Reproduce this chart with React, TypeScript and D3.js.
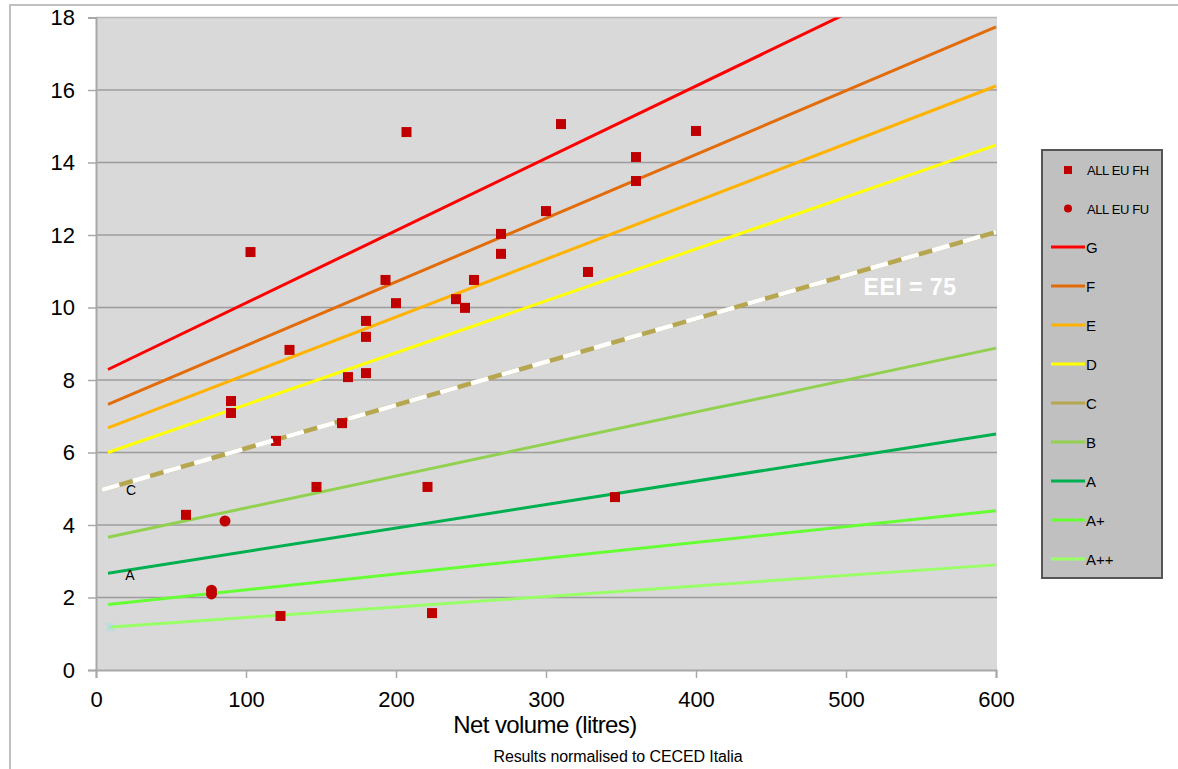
import React, { useRef, useEffect } from 'react';
import * as d3 from 'd3';

// energy class lines (start / end volume, consumption)
const lineVolumes = [8, 600];
const cVolumes = [4, 600];
const classNames = ['G', 'F', 'E', 'D', 'C', 'B', 'A', 'A+', 'A++'];
const classColors = ['#ff0000', '#e36c0a', '#ffb300', '#ffff00', '#b5a64f', '#92d050', '#00b050', '#66ff33', '#99ff66'];
const gValues = [8.29, 20.1];
const fValues = [7.33, 17.74];
const eValues = [6.68, 16.11];
const dValues = [6.0, 14.48];
const cValues = [4.97, 12.08];
const bValues = [3.66, 8.88];
const aValues = [2.67, 6.51];
const aPlusValues = [1.81, 4.39];
const aPlusPlusValues = [1.18, 2.9];

// ALL EU FH (squares)
const fhVolume = [60, 90, 90, 103, 120, 123, 129, 147, 164, 168, 180, 180, 180, 193, 200, 207, 221, 224, 240, 246, 252, 270, 270, 300, 310, 328, 346, 360, 360, 400];
const fhValue = [4.28, 7.42, 7.09, 11.53, 6.32, 1.49, 8.83, 5.05, 6.81, 8.08, 9.63, 9.19, 8.19, 10.76, 10.12, 14.84, 5.05, 1.57, 10.23, 9.99, 10.76, 12.03, 11.48, 12.66, 15.06, 10.98, 4.77, 14.15, 13.49, 14.87];

// ALL EU FU (circles)
const fuVolume = [86, 77, 77];
const fuValue = [4.11, 2.2, 2.1];

const xTicks = [0, 100, 200, 300, 400, 500, 600];
const yTicks = [0, 2, 4, 6, 8, 10, 12, 14, 16, 18];

const FONT = 'Liberation Sans, Arial, sans-serif';

function EnergyChart() {
  const svgRef = useRef(null);

  useEffect(() => {
    const svg = d3.select(svgRef.current);
    svg.selectAll('*').remove();

    const left = 96, right = 997, top = 17.5, bottom = 670;
    const x = d3.scaleLinear().domain([0, 600]).range([left, left + 900]);
    const y = d3.scaleLinear().domain([0, 18]).range([bottom, top]);

    // outer chart border
    svg.append('line').attr('x1', 9).attr('x2', 1178).attr('y1', 5).attr('y2', 5)
      .attr('stroke', '#c0c0c0').attr('stroke-width', 2);
    svg.append('line').attr('x1', 10).attr('x2', 10).attr('y1', 5).attr('y2', 769)
      .attr('stroke', '#c0c0c0').attr('stroke-width', 2);

    // plot area
    svg.append('rect').attr('x', left).attr('y', top)
      .attr('width', right - left).attr('height', bottom - top).attr('fill', '#d9d9d9');

    svg.append('defs').append('clipPath').attr('id', 'plotClip')
      .append('rect').attr('x', left).attr('y', top)
      .attr('width', right - left).attr('height', bottom - top);

    // gridlines
    svg.append('g').selectAll('line').data(yTicks.filter((t) => t > 0)).join('line')
      .attr('x1', left).attr('x2', right)
      .attr('y1', (d) => y(d)).attr('y2', (d) => y(d))
      .attr('stroke', (d) => (d === 18 ? '#b8b8b8' : '#9c9c9c')).attr('stroke-width', 1.5);

    // y axis
    const yAxis = d3.axisLeft(y).tickValues(yTicks).tickSize(8).tickPadding(13).tickFormat(d3.format('d'));
    const gy = svg.append('g').attr('transform', `translate(${left},0)`).call(yAxis);
    gy.select('.domain').attr('stroke', '#a8a8a8').attr('stroke-width', 2);
    gy.selectAll('.tick line').attr('stroke', '#a8a8a8').attr('stroke-width', 1.5);
    gy.selectAll('.tick text').attr('font-family', FONT).attr('font-size', 22).attr('fill', '#000');

    // x axis
    const xAxis = d3.axisBottom(x).tickValues(xTicks).tickSize(8).tickPadding(13).tickFormat(d3.format('d'));
    const gx = svg.append('g').attr('transform', `translate(0,${bottom})`).call(xAxis);
    gx.select('.domain').attr('stroke', '#a8a8a8').attr('stroke-width', 2);
    gx.selectAll('.tick line').attr('stroke', '#a8a8a8').attr('stroke-width', 1.5);
    gx.selectAll('.tick text').attr('font-family', FONT).attr('font-size', 22).attr('fill', '#000');

    // class lines
    const series = [gValues, fValues, eValues, dValues, cValues, bValues, aValues, aPlusValues, aPlusPlusValues];
    const line = d3.line().x((d) => x(d[0])).y((d) => y(d[1]));
    const plot = svg.append('g').attr('clip-path', 'url(#plotClip)');

    series.forEach((vals, i) => {
      const vols = classNames[i] === 'C' ? cVolumes : lineVolumes;
      const pts = vols.map((v, j) => [v, vals[j]]);
      plot.append('path').attr('d', line(pts)).attr('fill', 'none')
        .attr('stroke', classColors[i]).attr('stroke-width', classNames[i] === 'C' ? 4.5 : 3);
    });

    // small marker at start of A++
    const mx = x(lineVolumes[0]) + 2, my = y(aPlusPlusValues[0]);
    svg.append('path')
      .attr('d', `M${mx - 4},${my - 4}L${mx + 4},${my + 4}M${mx - 4},${my + 4}L${mx + 4},${my - 4}M${mx},${my - 5}L${mx},${my + 5}`)
      .attr('stroke', '#b0dde0').attr('stroke-width', 1.2);

    // data points
    svg.append('g').selectAll('rect').data(fhVolume.map((v, i) => [v, fhValue[i]])).join('rect')
      .attr('x', (d) => x(d[0]) - 5).attr('y', (d) => y(d[1]) - 5)
      .attr('width', 10).attr('height', 10).attr('fill', '#c00000');
    svg.append('g').selectAll('circle').data(fuVolume.map((v, i) => [v, fuValue[i]])).join('circle')
      .attr('cx', (d) => x(d[0])).attr('cy', (d) => y(d[1])).attr('r', 5.5).attr('fill', '#c00000');

    // EEI = 75 white dashes, drawn over the points
    const cPts = cVolumes.map((v, j) => [v, cValues[j]]);
    svg.append('g').attr('clip-path', 'url(#plotClip)').append('path').attr('d', line(cPts)).attr('fill', 'none')
      .attr('stroke', '#ffffff').attr('stroke-width', 4.5).attr('stroke-dasharray', '18 14');

    // in-plot labels
    svg.append('text').attr('x', 131).attr('y', 495).attr('text-anchor', 'middle')
      .attr('font-family', FONT).attr('font-size', 14).text('C');
    svg.append('text').attr('x', 130).attr('y', 580).attr('text-anchor', 'middle')
      .attr('font-family', FONT).attr('font-size', 14).text('A');
    svg.append('text').attr('x', 910).attr('y', 295).attr('text-anchor', 'middle')
      .attr('font-family', FONT).attr('font-size', 23).attr('font-weight', 'bold')
      .attr('letter-spacing', 0.5).attr('fill', '#ffffff').text('EEI = 75');

    // axis titles
    svg.append('text').attr('x', 545).attr('y', 733).attr('text-anchor', 'middle')
      .attr('font-family', FONT).attr('font-size', 24).attr('letter-spacing', -0.6).text('Net volume (litres)');
    svg.append('text').attr('x', 618).attr('y', 762).attr('text-anchor', 'middle')
      .attr('font-family', FONT).attr('font-size', 16).attr('letter-spacing', -0.1).text('Results normalised to CECED Italia');

    // legend
    const lg = svg.append('g');
    lg.append('rect').attr('x', 1042).attr('y', 150).attr('width', 120).attr('height', 428)
      .attr('fill', '#c0c0c0').attr('stroke', '#555555').attr('stroke-width', 2);
    const step = 39;
    lg.append('rect').attr('x', 1064).attr('y', 166).attr('width', 8).attr('height', 8).attr('fill', '#c00000');
    lg.append('text').attr('x', 1087).attr('y', 175).attr('font-family', FONT).attr('font-size', 13)
      .attr('letter-spacing', -0.4).text('ALL EU FH');
    lg.append('circle').attr('cx', 1068).attr('cy', 208.5).attr('r', 4).attr('fill', '#c00000');
    lg.append('text').attr('x', 1087).attr('y', 213.5).attr('font-family', FONT).attr('font-size', 13)
      .attr('letter-spacing', -0.4).text('ALL EU FU');
    classNames.forEach((name, i) => {
      const ly = 247 + i * step;
      lg.append('line').attr('x1', 1051).attr('x2', 1085).attr('y1', ly).attr('y2', ly)
        .attr('stroke', classColors[i]).attr('stroke-width', 3);
      lg.append('text').attr('x', 1086).attr('y', ly + 5.5).attr('font-family', FONT).attr('font-size', 15)
        .text(name);
    });
  }, []);

  return (
    <svg ref={svgRef} width={1178} height={769}
      style={{ position: 'absolute', left: 0, top: 0, background: '#ffffff' }} />
  );
}

export default function App() {
  return <EnergyChart />;
}
